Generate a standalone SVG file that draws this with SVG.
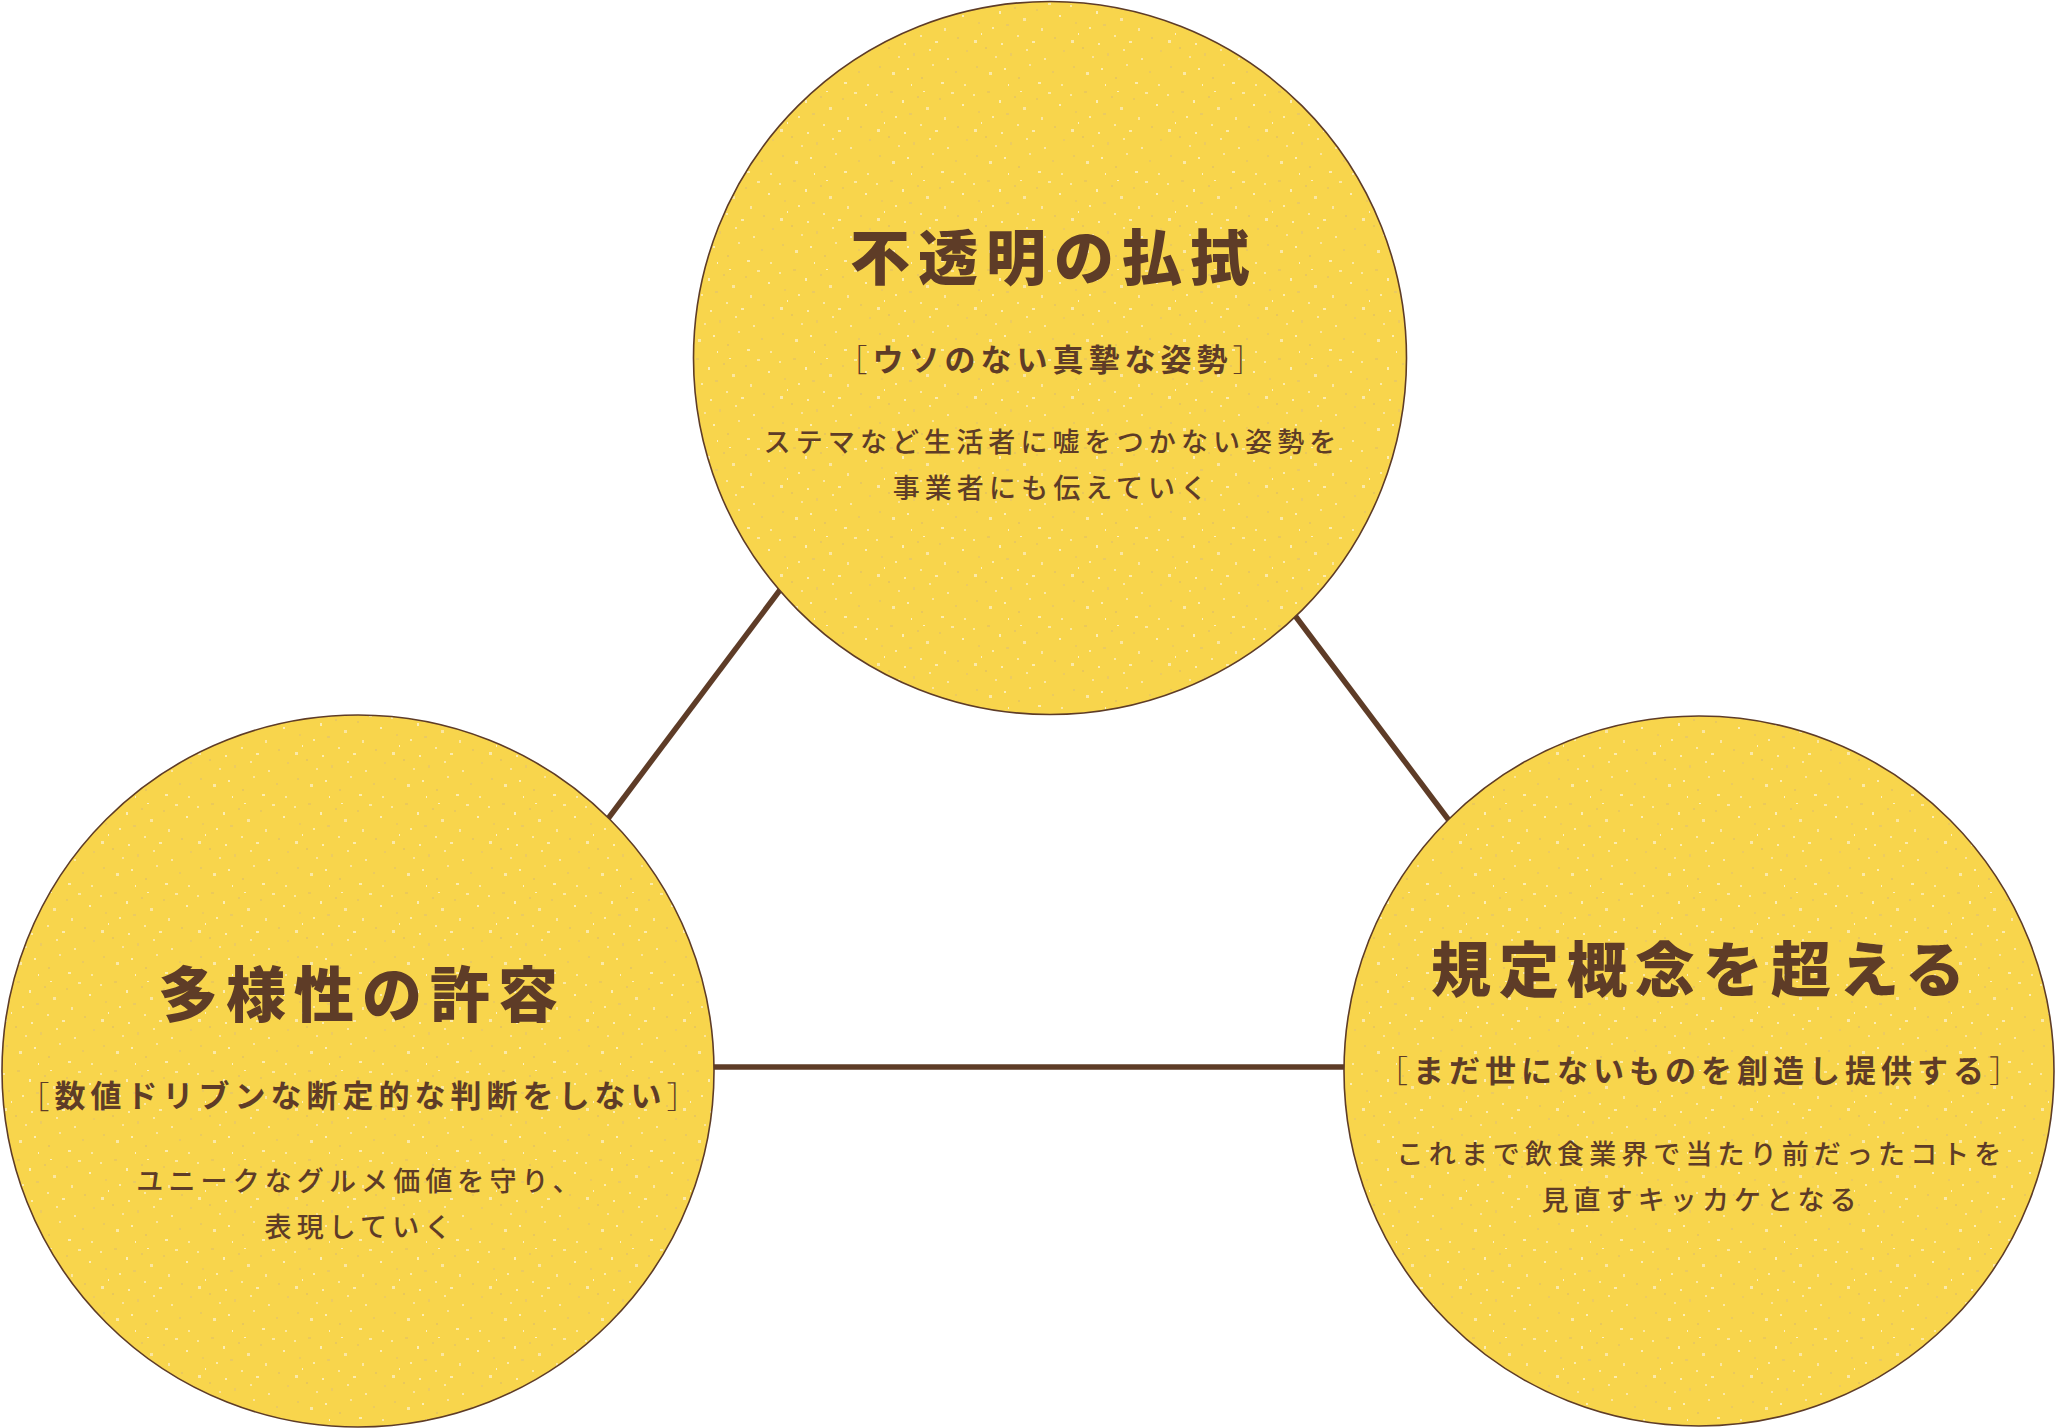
<svg xmlns="http://www.w3.org/2000/svg" width="2056" height="1428" viewBox="0 0 2056 1428">
  <style>
    .circle { fill: url(#speckle); stroke: #5E3C27; stroke-width: 1.6; }
    .conn { stroke: #5E3C27; stroke-width: 5.5; fill: none; stroke-linecap: butt; }
    text { font-family: "Noto Sans CJK JP", "Noto Sans", sans-serif; fill: #5E3C27; text-anchor: middle; dominant-baseline: central; }
    .title { font-size: 60px; font-weight: 900; letter-spacing: 8px; }
    .sub { font-size: 31px; font-weight: 700; letter-spacing: 5px; }
    .br { font-weight: 300; }
    .body { font-size: 27px; font-weight: 500; letter-spacing: 5.1px; }
  </style>
  <defs>
    <pattern id="speckle" patternUnits="userSpaceOnUse" width="97" height="89">
      <rect width="97" height="89" fill="#F8D54C"/>
      <rect x="3" y="5" width="2" height="2" fill="#FBE8A0"/>
      <rect x="17" y="2" width="3" height="2" fill="#EBC95A"/>
      <rect x="29" y="11" width="2" height="3" fill="#FCEDB2"/>
      <rect x="44" y="7" width="2" height="2" fill="#E9C85E"/>
      <rect x="53" y="18" width="3" height="3" fill="#FBE6A0"/>
      <rect x="8" y="22" width="2" height="2" fill="#EDCB5C"/>
      <rect x="22" y="27" width="2" height="2" fill="#FCEBAA"/>
      <rect x="36" y="24" width="3" height="2" fill="#EACA62"/>
      <rect x="47" y="35" width="2" height="2" fill="#FBE8A4"/>
      <rect x="4" y="40" width="3" height="3" fill="#FBE9A8"/>
      <rect x="15" y="47" width="2" height="2" fill="#E8C75B"/>
      <rect x="31" y="43" width="2" height="2" fill="#FCECB0"/>
      <rect x="40" y="53" width="2" height="3" fill="#EDCB60"/>
      <rect x="56" y="49" width="2" height="2" fill="#FBE7A2"/>
      <rect x="25" y="56" width="2" height="2" fill="#FAE39A"/>
      <rect x="11" y="33" width="1" height="2" fill="#FDF0C0"/>
      <rect x="50" y="2" width="2" height="1" fill="#FDF0C0"/>
      <rect x="66" y="9" width="2" height="2" fill="#EAC95C"/>
      <rect x="78" y="3" width="3" height="2" fill="#FBE8A2"/>
      <rect x="89" y="15" width="2" height="2" fill="#FCEDB4"/>
      <rect x="71" y="28" width="2" height="3" fill="#FBE6A0"/>
      <rect x="84" y="37" width="2" height="2" fill="#E9C85D"/>
      <rect x="62" y="41" width="3" height="2" fill="#FCEBAC"/>
      <rect x="93" y="50" width="2" height="2" fill="#EDCB60"/>
      <rect x="74" y="58" width="2" height="2" fill="#FBE7A4"/>
      <rect x="6" y="66" width="2" height="2" fill="#EACA5E"/>
      <rect x="19" y="72" width="3" height="3" fill="#FBE9A6"/>
      <rect x="34" y="68" width="2" height="2" fill="#FCEDB2"/>
      <rect x="48" y="77" width="2" height="2" fill="#E8C75C"/>
      <rect x="59" y="64" width="2" height="2" fill="#FAE49C"/>
      <rect x="68" y="82" width="3" height="2" fill="#FCECAE"/>
      <rect x="82" y="71" width="2" height="2" fill="#EBCA5F"/>
      <rect x="91" y="84" width="2" height="2" fill="#FBE8A2"/>
      <rect x="38" y="84" width="1" height="2" fill="#FDF0C0"/>
    </pattern>
  </defs>
  <rect width="2056" height="1428" fill="#FFFFFF"/>
  <g id="connectors">
    <line class="conn" x1="795" y1="570" x2="595" y2="836"/>
    <line class="conn" x1="1278" y1="593" x2="1460" y2="835"/>
    <line class="conn" x1="700" y1="1067" x2="1360" y2="1067"/>
  </g>
  <g id="node-top">
    <circle class="circle" cx="1050" cy="358" r="356.5"/>
    <text class="title" x="1054" y="253.5">不透明の払拭</text>
    <text class="sub" x="1052.5" y="357"><tspan class="br">［</tspan>ウソのない真摯な姿勢<tspan class="br">］</tspan></text>
    <text class="body" x="1052.5" y="440">ステマなど生活者に嘘をつかない姿勢を</text>
    <text class="body" x="1052.5" y="486.5">事業者にも伝えていく</text>
  </g>
  <g id="node-left">
    <circle class="circle" cx="358" cy="1071" r="356"/>
    <text class="title" x="362" y="990">多様性の許容</text>
    <text class="sub" x="360.5" y="1093.5"><tspan class="br">［</tspan>数値ドリブンな断定的な判断をしない<tspan class="br">］</tspan></text>
    <text class="body" x="360.5" y="1179.5">ユニークなグルメ価値を守り、</text>
    <text class="body" x="360.5" y="1225.5">表現していく</text>
  </g>
  <g id="node-right">
    <circle class="circle" cx="1699" cy="1071" r="355"/>
    <text class="title" x="1702" y="965">規定概念を超える</text>
    <text class="sub" x="1701" y="1068"><tspan class="br">［</tspan>まだ世にないものを創造し提供する<tspan class="br">］</tspan></text>
    <text class="body" x="1701.5" y="1152">これまで飲食業界で当たり前だったコトを</text>
    <text class="body" x="1701.5" y="1198">見直すキッカケとなる</text>
  </g>
</svg>
